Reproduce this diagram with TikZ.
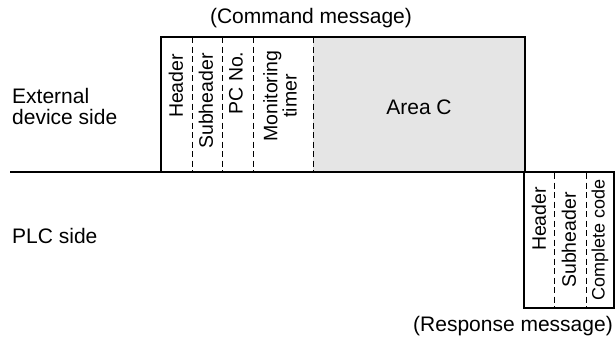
\documentclass[tikz,border=0pt]{standalone}
\usepackage{fontspec}
\setmainfont{Liberation Sans}
\tikzset{
	lbl/.style={inner sep=0pt, font=\fontsize{21}{18}\selectfont},
	vlbl/.style={inner sep=0pt, rotate=90, align=center, font=\fontsize{19.5}{16.5}\selectfont},
	field/.style={dashed, dash pattern=on 6pt off 3.5pt, line width=0.9pt},
	frame/.style={line width=2.2pt},
}
\begin{document}
\begin{tikzpicture}[x=1pt, y=-1pt]
		\useasboundingbox (0, 0) rectangle (615, 338);
		% Command message
		\fill[black!10] (313, 37) rectangle (525, 172);
		\foreach \xf in {192, 222, 253, 313}
			\draw[field] (\xf, 37) -- (\xf, 172);
		\draw[frame] (161, 172) -- (161, 37) -- (525, 37) -- (525, 172);
		\node[lbl] (cmdtitle) at (311, 18) {(Command message)};
		\node[vlbl] (cmdhead) at (176, 86) {Header};
		\node[vlbl] (cmdsub) at (206, 101) {Subheader};
		\node[vlbl] (cmdpc) at (236, 83) {PC No.};
		\node[vlbl] (cmdtimer) at (280, 96) {Monitoring\\timer};
		\node[lbl] (cmdarea) at (419, 107) {Area C};
		
		% Sides
		\draw[line width=1.6pt] (10, 172) -- (615, 172);
		\node[lbl, anchor=west, align=left, font=\fontsize{21}{21}\selectfont] (extside) at (12, 106) {External\\device side};
		\node[lbl, anchor=west] (plcside) at (12, 236) {PLC side};
		
		% Response message
		\foreach \xf in {554, 586}
			\draw[field] (\xf, 173) -- (\xf, 308);
		\draw[frame] (524, 172) -- (524, 308) -- (614, 308) -- (614, 172);
		\node[vlbl] (reshead) at (539, 219) {Header};
		\node[vlbl] (ressub) at (569, 240) {Subheader};
		\node[vlbl, font=\fontsize{18}{17}\selectfont] (rescode) at (600, 240) {Complete code};
		\node[lbl] (restitle) at (513, 326) {(Response message)};
	\end{tikzpicture}
\end{document}
